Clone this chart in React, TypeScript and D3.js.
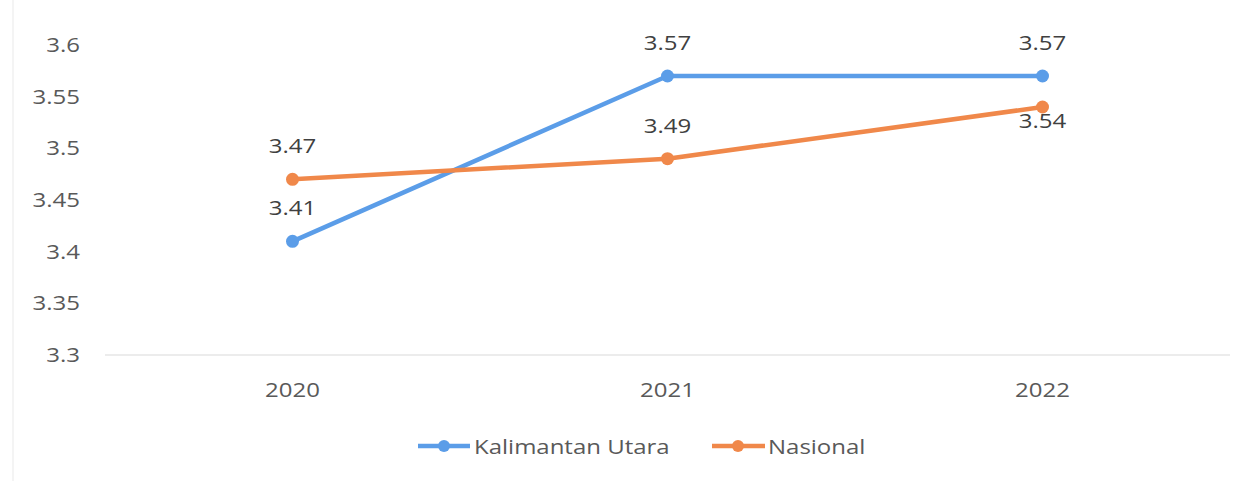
import React from "react";
import * as d3 from "d3";

const years = ["2020", "2021", "2022"];
const kaltaraValues = [3.41, 3.57, 3.57];
const nasionalValues = [3.47, 3.49, 3.54];
const yTicks = [3.3, 3.35, 3.4, 3.45, 3.5, 3.55, 3.6];
const seriesNames = ["Kalimantan Utara", "Nasional"];
// label placement: above (-1) or below (+1) the point
const kaltaraLabelPos = [-1, -1, -1];
const nasionalLabelPos = [-1, -1, 1];

const W = 1259;
const H = 481;
const BLUE = "#5b9de8";
const ORANGE = "#f0884a";
const FONT = "'Open Sans', sans-serif";
const SX = 1.2;

function T({ x, y, anchor = "start", size = 20, fill = "#595959", children }: any) {
  return (
    <text
      transform={`translate(${x},${y}) scale(${SX},1)`}
      textAnchor={anchor}
      fontFamily={FONT}
      fontSize={size}
      fill={fill}
    >
      {children}
    </text>
  );
}

export default function App() {
  const x = d3.scalePoint<string>().domain(years).range([105, 1230]).padding(0.5);
  const y = d3.scaleLinear().domain([3.3, 3.6]).range([355, 45]);
  const line = d3
    .line<number>()
    .x((_, i) => x(years[i]) as number)
    .y((d) => y(d));

  const series = [
    { name: seriesNames[0], values: kaltaraValues, color: BLUE, pos: kaltaraLabelPos },
    { name: seriesNames[1], values: nasionalValues, color: ORANGE, pos: nasionalLabelPos },
  ];

  return (
    <svg
      width={W}
      height={H}
      style={{ position: "absolute", left: 0, top: 0, background: "#fff" }}
    >
      <line x1={13} x2={13} y1={0} y2={H} stroke="#f0f0f0" strokeWidth={1.5} />
      <line x1={105} x2={1230} y1={y(3.3)} y2={y(3.3)} stroke="#e6e6e6" strokeWidth={1.5} />
      {yTicks.map((t) => (
        <T key={t} x={80} y={y(t) + 7} anchor="end">
          {String(t)}
        </T>
      ))}
      {years.map((yr) => (
        <T key={yr} x={x(yr)} y={397} anchor="middle">
          {yr}
        </T>
      ))}
      {series.map((s) => (
        <g key={s.name}>
          <path
            d={line(s.values) || ""}
            fill="none"
            stroke={s.color}
            strokeWidth={4.5}
            strokeLinejoin="round"
            strokeLinecap="round"
          />
          {s.values.map((v, i) => (
            <circle key={i} cx={x(years[i])} cy={y(v)} r={6.5} fill={s.color} />
          ))}
          {s.values.map((v, i) => (
            <T
              key={"l" + i}
              x={x(years[i])}
              y={s.pos[i] < 0 ? y(v) - 26 : y(v) + 21}
              anchor="middle"
              fill="#404040"
            >
              {v.toFixed(2)}
            </T>
          ))}
        </g>
      ))}
      {/* legend */}
      <g>
        <line x1={418} x2={470} y1={446} y2={446} stroke={BLUE} strokeWidth={4.5} />
        <circle cx={444} cy={446} r={6} fill={BLUE} />
        <T x={474} y={454}>{seriesNames[0]}</T>
        <line x1={712} x2={765} y1={446} y2={446} stroke={ORANGE} strokeWidth={4.5} />
        <circle cx={738} cy={446} r={6} fill={ORANGE} />
        <T x={768} y={454}>{seriesNames[1]}</T>
      </g>
    </svg>
  );
}
